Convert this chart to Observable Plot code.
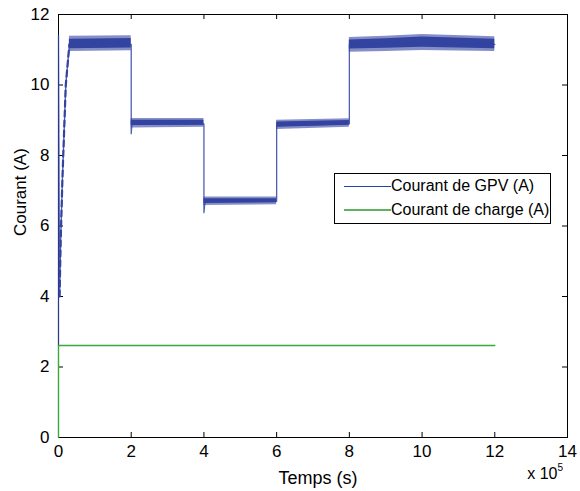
<!DOCTYPE html>
<html>
<head>
<meta charset="utf-8">
<script src="https://cdn.jsdelivr.net/npm/d3@7"></script>
<script src="https://cdn.jsdelivr.net/npm/@observablehq/plot@0.6"></script>
<style>
  html, body { margin: 0; padding: 0; background: #fff; }
  #wrap { position: relative; width: 580px; height: 491px; font-family: "Liberation Sans", Arial, Helvetica, sans-serif; }
  #legend { position: absolute; left: 334px; top: 173px; width: 215px; height: 49px; border: 1px solid #000; background: #fff; font-size: 16px; }
  .row { position: absolute; left: 0; height: 20px; display: flex; align-items: center; }
  .sw { width: 47px; height: 0; margin-left: 9px; }
  .lab { white-space: nowrap; }
</style>
</head>
<body>
<div id="wrap"></div>
<script>
// ---- data ----
const xTicks = [0, 2, 4, 6, 8, 10, 12, 14];        // ×10^5 s
const yTicks = [0, 2, 4, 6, 8, 10, 12];
const seriesNames = ["Courant de GPV (A)", "Courant de charge (A)"];
const seriesColors = ["#3343a0", "#3aa83a"];

// GPV current: start-up + mean path through steps
const gpvTime  = [0, 0, 0.03, 0.06, 0.11, 0.2, 0.3, 2.0, 2.0, 2.02, 4.0, 4.0, 4.03, 6.0, 6.0, 8.0, 8.0, 10.0, 12.0];
const gpvValue = [2.6, 11.4, 4.0, 5.6, 7.4, 10.0, 11.15, 11.15, 8.62, 8.9, 8.9, 6.38, 6.7, 6.7, 8.85, 8.9, 11.15, 11.2, 11.15];

// start-up ramp (appears dashed)
const rampTime  = [0.03, 0.06, 0.11, 0.2, 0.3];
const rampValue = [4.0, 5.6, 7.4, 10.0, 11.15];

// noisy plateaus: envelope of the oscillation band (breakpoints per plateau)
const bandPlateau = [0, 0, 1, 1, 2, 2, 3, 3, 4, 4, 4, 4];
const bandTime    = [0.3, 2.0, 2.0, 4.0, 4.0, 6.0, 6.0, 8.0, 8.0, 9.0, 10.0, 12.0];
const bandLow     = [10.95, 10.97, 8.78, 8.80, 6.58, 6.60, 8.74, 8.80, 10.93, 10.95, 10.98, 10.95];
const bandHigh    = [11.38, 11.40, 9.05, 9.05, 6.82, 6.82, 9.00, 9.04, 11.35, 11.38, 11.43, 11.37];
const bandCoreLow  = [11.03, 11.05, 8.85, 8.86, 6.64, 6.66, 8.80, 8.86, 11.02, 11.04, 11.07, 11.03];
const bandCoreHigh = [11.30, 11.32, 9.00, 9.00, 6.77, 6.77, 8.95, 8.99, 11.28, 11.31, 11.36, 11.30];

// charge current
const chargeTime  = [0, 0, 12];
const chargeValue = [0, 2.61, 2.61];

// ---- build tables ----
const gpv = gpvTime.map((t, i) => ({t, v: gpvValue[i]}));
const ramp = rampTime.map((t, i) => ({t, v: rampValue[i]}));
const band = bandTime.map((t, i) => ({t, k: bandPlateau[i], lo: bandLow[i], hi: bandHigh[i], clo: bandCoreLow[i], chi: bandCoreHigh[i]}));
const charge = chargeTime.map((t, i) => ({t, v: chargeValue[i]}));

const W = 580, H = 491, mL = 58, mR = 13, mT = 14, mB = 54;
const frameH = H - mT - mB, frameW = W - mL - mR, tk = 5;

const chart = Plot.plot({
  width: W, height: H,
  marginLeft: mL, marginRight: mR, marginTop: mT, marginBottom: mB,
  style: {fontFamily: "'Liberation Sans', Arial, Helvetica, sans-serif", background: "#fff", overflow: "visible"},
  x: {domain: [0, 14], label: null},
  y: {domain: [0, 12], label: null},
  marks: [
    Plot.frame({stroke: "#000", strokeWidth: 1}),
    // inward ticks on all four sides
    Plot.tickX(xTicks, {x: d => d, insetTop: frameH - tk, stroke: "#000"}),
    Plot.tickX(xTicks, {x: d => d, insetBottom: frameH - tk, stroke: "#000"}),
    Plot.tickY(yTicks, {y: d => d, insetRight: frameW - tk, stroke: "#000"}),
    Plot.tickY(yTicks, {y: d => d, insetLeft: frameW - tk, stroke: "#000"}),
    Plot.areaY(band, {x: "t", y1: "lo", y2: "hi", z: "k", fill: seriesColors[0], fillOpacity: 0.6}),
    Plot.areaY(band, {x: "t", y1: "clo", y2: "chi", z: "k", fill: seriesColors[0], fillOpacity: 1}),
    Plot.line(gpv, {x: "t", y: "v", stroke: seriesColors[0], strokeWidth: 1.3, strokeOpacity: 0.85}),
    Plot.line(ramp, {x: "t", y: "v", stroke: seriesColors[0], strokeWidth: 2.2, strokeDasharray: "6,4"}),
    Plot.line(charge, {x: "t", y: "v", stroke: seriesColors[1], strokeWidth: 1.4}),
    Plot.axisX(xTicks, {tickSize: 0, tickPadding: 7, fontSize: 17, label: null}),
    Plot.axisY(yTicks, {tickSize: 0, tickPadding: 9, fontSize: 17, label: null}),
    Plot.text(["Temps (s)"], {frameAnchor: "bottom", dx: 5, dy: 41, fontSize: 18, lineAnchor: "middle"}),
    Plot.text(["Courant (A)"], {frameAnchor: "left", rotate: -90, dx: -38, dy: 10, fontSize: 17, lineAnchor: "middle"}),
    Plot.text(["x 10"], {frameAnchor: "bottom-right", textAnchor: "end", dx: -10, dy: 36, fontSize: 16, lineAnchor: "middle"}),
    Plot.text(["5"], {frameAnchor: "bottom-right", textAnchor: "start", dx: -10, dy: 30, fontSize: 10, lineAnchor: "middle"})
  ]
});

const wrap = document.getElementById("wrap");
wrap.appendChild(chart);

// legend (MATLAB-style box inside the axes)
const leg = document.createElement("div");
leg.id = "legend";
seriesNames.forEach((name, i) => {
  const row = document.createElement("div");
  row.className = "row";
  row.style.top = (i === 0 ? 2 : 26) + "px";
  const sw = document.createElement("div");
  sw.className = "sw";
  sw.style.borderTop = (i === 0 ? "1px solid #2040b0" : "2px solid #5fb35f");
  const lab = document.createElement("span");
  lab.className = "lab";
  lab.textContent = name;
  row.appendChild(sw); row.appendChild(lab);
  leg.appendChild(row);
});
wrap.appendChild(leg);
</script>
</body>
</html>
